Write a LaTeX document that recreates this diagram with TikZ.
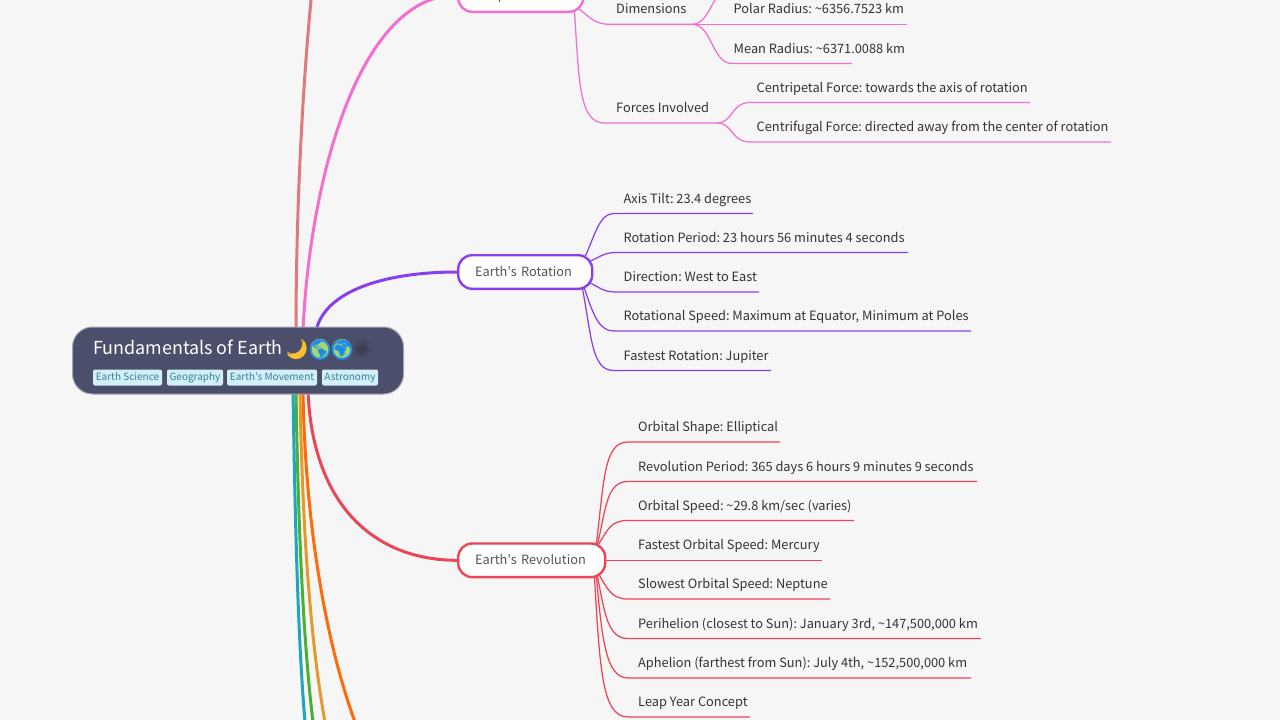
\documentclass[tikz,border=0pt]{standalone}
\usepackage{fontspec}
\newfontfamily\basef{Noto Sans CJK SC}
\newfontfamily\emojifont{Noto Emoji}
\usetikzlibrary{backgrounds,calc}
\definecolor{bgc}{HTML}{F6F6F6}
\definecolor{rootc}{HTML}{4C4F6B}
\definecolor{rootb}{HTML}{A5A6B5}
\definecolor{tagf}{HTML}{D3F0F8}
\definecolor{tagt}{HTML}{2F8199}
\definecolor{txt}{HTML}{333333}
\definecolor{btxt}{HTML}{555555}
\definecolor{pinkc}{HTML}{F06FD0}
\definecolor{rosec}{HTML}{E07A7A}
\definecolor{purp}{HTML}{8A3FEE}
\definecolor{redc}{HTML}{EA4658}
\definecolor{orng}{HTML}{FF6A0A}
\definecolor{gold}{HTML}{E29A2C}
\definecolor{grn}{HTML}{4CAE33}
\definecolor{teal2}{HTML}{1EA5C0}
\definecolor{globeb}{HTML}{1E8CEB}
\definecolor{landc}{HTML}{A5D76E}
\definecolor{moonc}{HTML}{FBC02D}
\definecolor{sunc}{HTML}{3E4054}
\tikzset{
  x=1pt,y=-1pt,
  main/.style={line width=3pt,line cap=round},
  thin2/.style={line width=1.25pt},
  branch/.style={draw=#1,fill=white,line width=2.4pt,rounded corners=14pt,text=btxt,font=\basef\frenchspacing\fontsize{12.8}{15}\selectfont,inner xsep=17pt,inner ysep=0pt,anchor=west,minimum height=33.6pt,text height=11pt,text depth=2pt,align=left},
  leaf/.style={text=txt,font=\basef\frenchspacing\fontsize{12.8}{15}\selectfont,inner sep=0pt,anchor=base west},
  tagn/.style={fill=tagf,text=tagt,rounded corners=2pt,inner sep=0pt,minimum height=16pt,font=\basef\frenchspacing\fontsize{10}{12}\selectfont,anchor=center,text height=8pt,text depth=2.5pt},
  emo/.style={inner sep=0pt,font=\emojifont\fontsize{19}{22}\selectfont,anchor=center},
}
% name, text x, line y, line end x, text
\newcommand{\leafn}[5]{%
  \node[leaf] (#1) at (#2,#3-10.4) {#5};
  \coordinate (#1e) at (#4,#3);}
\begin{document}
\begin{tikzpicture}
\useasboundingbox (0,0) rectangle (1280,720);
% root
\node[draw=rootb,fill=rootc,line width=1pt,rounded corners=20pt,minimum width=331pt,minimum height=67pt,inner sep=0pt] (root) at (238,360.5) {};
\node[text=white,inner sep=0pt,anchor=base west,font=\basef\frenchspacing\fontsize{17.9}{22}\selectfont] (title) at (93,354) {Fundamentals of Earth};
\fill[moonc] (303,340) .. controls (309,348) and (306,359) .. (296,359) .. controls (292,359) and (289,357) .. (287,354) .. controls (296,356) and (304,350) .. (303,340) -- cycle;
\fill[globeb] (320,350) circle (9.8);
\fill[globeb] (342,350) circle (9.8);
\fill[sunc] (362,349.5) circle (5.5);
\node[emo,text=moonc] (e1) at (297,349) {🌙};
\node[emo,text=landc] (e2) at (320,349.5) {🌎};
\node[emo,text=landc] (e3) at (342,349.5) {🌍};
\node[emo,text=sunc] (e4) at (362,349.5) {☀};
\draw[globeb,line width=1.6pt] (e2) circle (9.3) (e3) circle (9.3);
\node[tagn,minimum width=69pt] (t1) at (127.5,377.5) {Earth Science};
\node[tagn,minimum width=56pt] (t2) at (195,377.5) {Geography};
\node[tagn,minimum width=90pt] (t3) at (272,377.5) {Earth's Movement};
\node[tagn,minimum width=56pt] (t4) at (350,377.5) {Astronomy};
% branches
\node[branch=pinkc,text width=91pt] (shape) at (457,-5) {Shape of Earth};
\node[branch=purp,text width=100pt] (rot) at (457,272) {Earth's Rotation};
\node[branch=redc,text width=113pt] (rev) at (457,560.3) {Earth's Revolution};
% pink leaves
\leafn{dim}{616}{24.3}{692}{Dimensions}
\leafn{polar}{733.5}{24.3}{907}{Polar Radius: \textasciitilde6356.7523 km}
\leafn{mean}{733.5}{63.5}{852}{Mean Radius: \textasciitilde6371.0088 km}
\leafn{forces}{616}{123}{717}{Forces Involved}
\leafn{cpet}{756.5}{102.5}{1030}{Centripetal Force: towards the axis of rotation}
\leafn{cfug}{756.5}{142}{1111}{Centrifugal Force: directed away from the center of rotation}
% purple leaves
\leafn{r1}{623.5}{213.5}{753}{Axis Tilt: 23.4 degrees}
\leafn{r2}{623.5}{252.5}{908}{Rotation Period: 23 hours 56 minutes 4 seconds}
\leafn{r3}{623.5}{292}{759}{Direction: West to East}
\leafn{r4}{623.5}{331}{971}{Rotational Speed: Maximum at Equator, Minimum at Poles}
\leafn{r5}{623.5}{370.5}{771}{Fastest Rotation: Jupiter}
% red leaves
\leafn{v1}{638}{442}{780}{Orbital Shape: Elliptical}
\leafn{v2}{638}{481.5}{977}{Revolution Period: 365 days 6 hours 9 minutes 9 seconds}
\leafn{v3}{638}{520.5}{854}{Orbital Speed: \textasciitilde29.8 km/sec (varies)}
\leafn{v4}{638}{560.3}{822}{Fastest Orbital Speed: Mercury}
\leafn{v5}{638}{599}{830}{Slowest Orbital Speed: Neptune}
\leafn{v6}{638}{638.5}{981}{Perihelion (closest to Sun): January 3rd, \textasciitilde147,500,000 km}
\leafn{v7}{638}{678}{971}{Aphelion (farthest from Sun): July 4th, \textasciitilde152,500,000 km}
\leafn{v8}{638}{717}{750}{Leap Year Concept}
\coordinate (rosefree) at (313,-20);
\coordinate (orfree) at (355,722);
\coordinate (gofree) at (325,722);
\coordinate (grfree) at (313,722);
\coordinate (tefree) at (305,722);
\coordinate (eqfree) at (735,-15);
\begin{scope}[on background layer]
\fill[bgc] (0,0) rectangle (1280,720);
% main connectors
\draw[main,rosec] ($(root.north west)+(224,4)$) .. controls ($(root.north west)+(224,-110)$) and ($(root.north west)+(230,-240)$) .. (rosefree);
\draw[main,pinkc] ($(root.north west)+(231,4)$) .. controls ($(root.north west)+(238,-150)$) and (360,-5) .. (shape.west);
\draw[main,purp] ($(root.north west)+(244,4)$) .. controls ($(root.north west)+(254,-38)$) and (390,272) .. (rot.west);
\draw[main,redc] ($(root.south west)+(236,-4)$) .. controls ($(root.south west)+(240,106)$) and (370,560) .. (rev.west);
\draw[main,orng] ($(root.south west)+(231,-4)$) .. controls ($(root.south west)+(233,126)$) and (325,640) .. (orfree);
\draw[main,gold] ($(root.south west)+(228,-4)$) .. controls ($(root.south west)+(230,126)$) and (310,640) .. (gofree);
\draw[main,grn] ($(root.south west)+(224,-4)$) .. controls ($(root.south west)+(226,126)$) and (303,640) .. (grfree);
\draw[main,teal2] ($(root.south west)+(221,-4)$) .. controls ($(root.south west)+(223,126)$) and (298,640) .. (tefree);
% pink thin
\begin{scope}[thin2,pinkc]
\draw ($(shape.south east)+(-8,-6)$) .. controls (590,17) and (594,24.3) .. (610,24.3) -- (dime);
\draw (dime) -- (polare);
\draw (dime) .. controls (712,24.3) and (712,-15) .. (eqfree);
\draw (dime) .. controls (712,24.3) and (712,63.5) .. (732,63.5) -- (meane);
\draw ($(shape.south east)+(-10,-2)$) .. controls (579,75) and (578,123) .. (604,123) -- (forcese);
\draw (forcese) .. controls (733,123) and (731,102.5) .. (750,102.5) -- (cpete);
\draw (forcese) .. controls (733,123) and (731,142) .. (750,142) -- (cfuge);
\end{scope}
% purple thin
\begin{scope}[thin2,purp]
\draw ($(rot.north east)+(-8,2)$) .. controls (596,232) and (600,213.5) .. (614,213.5) -- (r1e);
\draw ($(rot.north east)+(-3,7)$) .. controls (600,257) and (604,252.5) .. (616,252.5) -- (r2e);
\draw ($(rot.south east)+(-3,-7)$) .. controls (600,288) and (604,292) .. (616,292) -- (r3e);
\draw ($(rot.south east)+(-9,-2)$) .. controls (594,318) and (600,331) .. (614,331) -- (r4e);
\draw ($(rot.south east)+(-11,-2)$) .. controls (592,340) and (592,370.5) .. (614,370.5) -- (r5e);
\end{scope}
% red thin
\begin{scope}[thin2,redc]
\draw ($(rev.north east)+(-10,2)$) .. controls (604,480) and (604,442) .. (628,442) -- (v1e);
\draw ($(rev.north east)+(-9,2)$) .. controls (606,510) and (606,481.5) .. (628,481.5) -- (v2e);
\draw ($(rev.north east)+(-8,2)$) .. controls (608,530) and (610,520.5) .. (628,520.5) -- (v3e);
\draw (rev.east) -- (v4e);
\draw ($(rev.south east)+(-7,-3)$) .. controls (608,590) and (612,599) .. (628,599) -- (v5e);
\draw ($(rev.south east)+(-9,-2)$) .. controls (605,615) and (608,638.5) .. (628,638.5) -- (v6e);
\draw ($(rev.south east)+(-10,-2)$) .. controls (602,640) and (606,678) .. (628,678) -- (v7e);
\draw ($(rev.south east)+(-12,-2)$) .. controls (600,670) and (602,717) .. (628,717) -- (v8e);
\end{scope}
\end{scope}
\end{tikzpicture}
\end{document}
